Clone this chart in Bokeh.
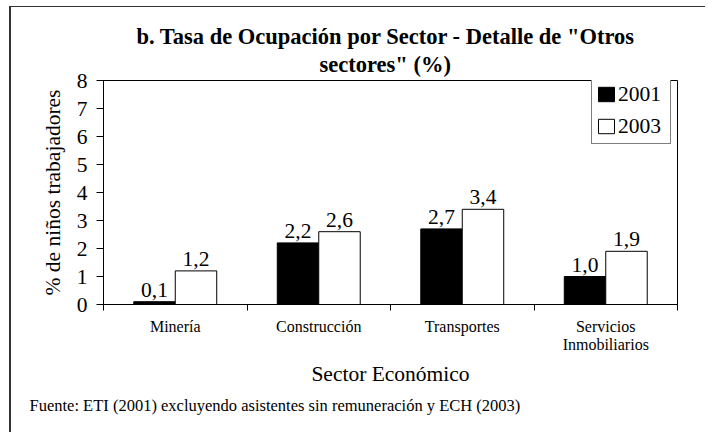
from bokeh.plotting import figure
from bokeh.models import (ColumnDataSource, FixedTicker, Legend, LegendItem, Title)
from bokeh.core.properties import value
from bokeh.embed import file_html
from bokeh.resources import INLINE

# ---- data ----
categories = ["Minería", "Construcción", "Transportes", "Servicios\nInmobiliarios"]
years = ["2001", "2003"]
values_2001 = [0.1, 2.2, 2.7, 1.0]
values_2003 = [1.2, 2.6, 3.4, 1.9]
y_ticks = [0, 1, 2, 3, 4, 5, 6, 7, 8]

title_line1 = 'b. Tasa de Ocupación por Sector - Detalle de "Otros'
title_line2 = 'sectores" (%)'
y_label = "% de niños trabajadores"
x_label = "Sector Económico"
footnote = "Fuente: ETI (2001) excluyendo asistentes sin remuneración y ECH (2003)"

FONT = "'Liberation Serif'"
BIG = "21.5px"
OX, OY = 12, 7            # canvas origin on page (after margin + border)
W, H = 708 - OX, 433 - OY
FL, FR, FT, FB = 104 - OX, 678 - OX, 80 - OY, 304 - OY  # frame in canvas px
bar_w = 0.289
off = bar_w / 2

idx = list(range(len(categories)))
fmt = lambda v: f"{v:.1f}".replace(".", ",")

src01 = ColumnDataSource(dict(x=[i - off for i in idx], top=values_2001,
                              lab=[fmt(v) for v in values_2001]))
src03 = ColumnDataSource(dict(x=[i + off for i in idx], top=values_2003,
                              lab=[fmt(v) for v in values_2003]))

p = figure(width=W, height=H, output_backend="svg", toolbar_location=None,
           x_range=(-0.5, len(categories) - 0.5), y_range=(0, 8),
           min_border_left=FL, min_border_right=W - FR,
           min_border_top=FT, min_border_bottom=H - FB)
p.title = None
p.grid.visible = False
p.outline_line_color = "black"
p.outline_line_width = 1
p.background_fill_color = "white"
p.border_fill_color = "white"

r1 = p.vbar(x="x", top="top", bottom=0, width=bar_w, source=src01,
            fill_color="black", line_color="black", line_width=1)
r2 = p.vbar(x="x", top="top", bottom=0, width=bar_w, source=src03,
            fill_color="white", line_color="black", line_width=1)

for s in (src01, src03):
    p.text(x="x", y="top", text="lab", source=s, text_align="center",
           text_baseline="alphabetic", y_offset=-12,
           text_font=value(FONT), text_font_size=BIG, text_color="black")

# y axis
ya = p.yaxis[0]
ya.ticker = FixedTicker(ticks=y_ticks)
ya.major_tick_out = 7
ya.major_tick_in = 0
ya.minor_tick_line_color = None
ya.axis_line_color = "black"
ya.major_tick_line_color = "black"
ya.major_label_text_font = FONT
ya.major_label_text_font_size = BIG
ya.major_label_text_color = "black"
ya.major_label_standoff = 9
ya.axis_label = y_label
ya.axis_label_text_font = FONT
ya.axis_label_text_font_size = BIG
ya.axis_label_text_font_style = "normal"
ya.axis_label_text_color = "black"
ya.axis_label_standoff = 9

# x axis
xa = p.xaxis[0]
xa.ticker = FixedTicker(ticks=idx, minor_ticks=[i - 0.5 for i in idx] + [len(idx) - 0.5])
xa.major_label_overrides = {i: c for i, c in zip(idx, categories)}
xa.major_tick_line_color = None
xa.major_tick_out = 0
xa.major_tick_in = 0
xa.minor_tick_line_color = "black"
xa.minor_tick_out = 6
xa.minor_tick_in = 0
xa.axis_line_color = "black"
xa.major_label_text_font = FONT
xa.major_label_text_font_size = "16px"
xa.major_label_text_color = "black"
xa.major_label_text_line_height = 1.1
xa.major_label_standoff = 7
xa.axis_label = x_label
xa.axis_label_text_font = FONT
xa.axis_label_text_font_size = BIG
xa.axis_label_text_font_style = "normal"
xa.axis_label_text_color = "black"
xa.axis_label_standoff = 6

# legend
legend = Legend(items=[LegendItem(label=years[0], renderers=[r1]),
                       LegendItem(label=years[1], renderers=[r2])],
                location=(488, 160), orientation="vertical",
                glyph_width=20, glyph_height=18, label_standoff=2,
                label_width=48, label_height=26, spacing=6, padding=4,
                margin=0, border_line_color="black", border_line_width=1,
                background_fill_color="white", background_fill_alpha=1,
                label_text_font=FONT, label_text_font_size=BIG,
                label_text_color="black")
p.add_layout(legend, "center")

# title: two lines (first added sits nearest the frame)
p.add_layout(Title(text=title_line2, align="left", offset=320 - 104, standoff=8,
                   text_font=FONT, text_font_size="22.5px", text_font_style="bold",
                   text_color="black"), "above")
p.add_layout(Title(text=title_line1, align="left", offset=137 - 104, standoff=-6,
                   text_font=FONT, text_font_size="22.5px", text_font_style="bold",
                   text_color="black"), "above")
p.add_layout(Title(text=footnote, align="left", offset=30 - 104, standoff=9,
                   text_font=FONT, text_font_size="16.5px", text_font_style="normal",
                   text_color="black"), "below")

p.styles = {"margin-left": "9px", "margin-top": "6px",
            "border-left": "2px solid #333333", "border-top": "1px solid #333333"}

open("out.html", "w").write(file_html(p, INLINE))
